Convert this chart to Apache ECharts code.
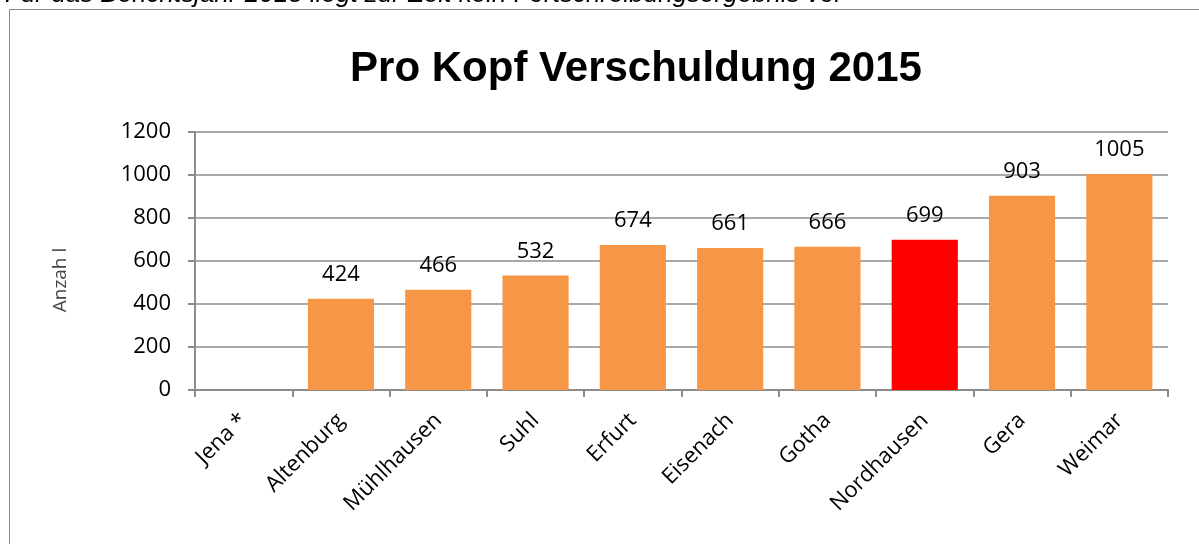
<!DOCTYPE html>
<html><head><meta charset="utf-8">
<script src="https://cdn.jsdelivr.net/npm/echarts@6/dist/echarts.min.js"></script>
<style>html,body{margin:0;padding:0;background:#fff}#c{width:1199px;height:544px}</style>
</head><body><div id="c"></div>
<script>
const categories = ['Jena *','Altenburg','Mühlhausen','Suhl','Erfurt','Eisenach','Gotha','Nordhausen','Gera','Weimar'];
const values = [null,424,466,532,674,661,666,699,903,1005];
const highlight = 'Nordhausen';
const yTicks = [0,200,400,600,800,1000,1200];
const titleText = 'Pro Kopf Verschuldung 2015';
const noteText = 'Für das Berichtsjahr 2015 liegt zur Zeit kein Fortschreibungsergebnis vor';
const yName = 'Anzah l';

const chart = echarts.init(document.getElementById('c'));
const lab = {fontFamily:'Open Sans', fontSize:22, color:'#000'};
chart.setOption({
  animation:false,
  graphic:[
    {type:'rect', shape:{x:9.5,y:9.5,width:1300,height:600}, style:{fill:'none', stroke:'#8a8a8a', lineWidth:1}},
    {type:'text', x:5, y:-5, style:{text:noteText, font:'italic 26px "Liberation Sans"', fill:'#000', verticalAlign:'middle'}},
    {type:'text', x:636, y:69, style:{text:titleText, font:'bold 42px "Liberation Sans"', fill:'#000', align:'center', verticalAlign:'middle'}},
    {type:'text', x:61, y:280, rotation:Math.PI/2, style:{text:yName, font:'19px "Open Sans"', fill:'#444', align:'center', verticalAlign:'middle'}}
  ],
  grid:{left:195, right:31, top:132, bottom:154},
  xAxis:{type:'category', data:categories,
    axisLine:{lineStyle:{color:'#8c8c8c', width:2}},
    axisTick:{show:true, length:7, lineStyle:{color:'#8c8c8c', width:2}},
    axisLabel:Object.assign({rotate:45, interval:0, margin:27}, lab)},
  yAxis:{type:'value', min:0, max:1200, interval:200,
    axisLine:{show:true, lineStyle:{color:'#8c8c8c', width:2}},
    axisTick:{show:true, length:7, lineStyle:{color:'#8c8c8c', width:2}},
    splitLine:{lineStyle:{color:'#8c8c8c', width:1.5}},
    axisLabel:Object.assign({margin:24, formatter:v=>String(v)}, lab)},
  series:[{type:'bar', barWidth:'68%',
    data:values.map((v,i)=>({value:v, itemStyle:{color: categories[i]===highlight ? '#FF0000' : '#F79646'}})),
    label:Object.assign({show:true, position:'top', distance:13}, lab)}]
});
</script></body></html>
